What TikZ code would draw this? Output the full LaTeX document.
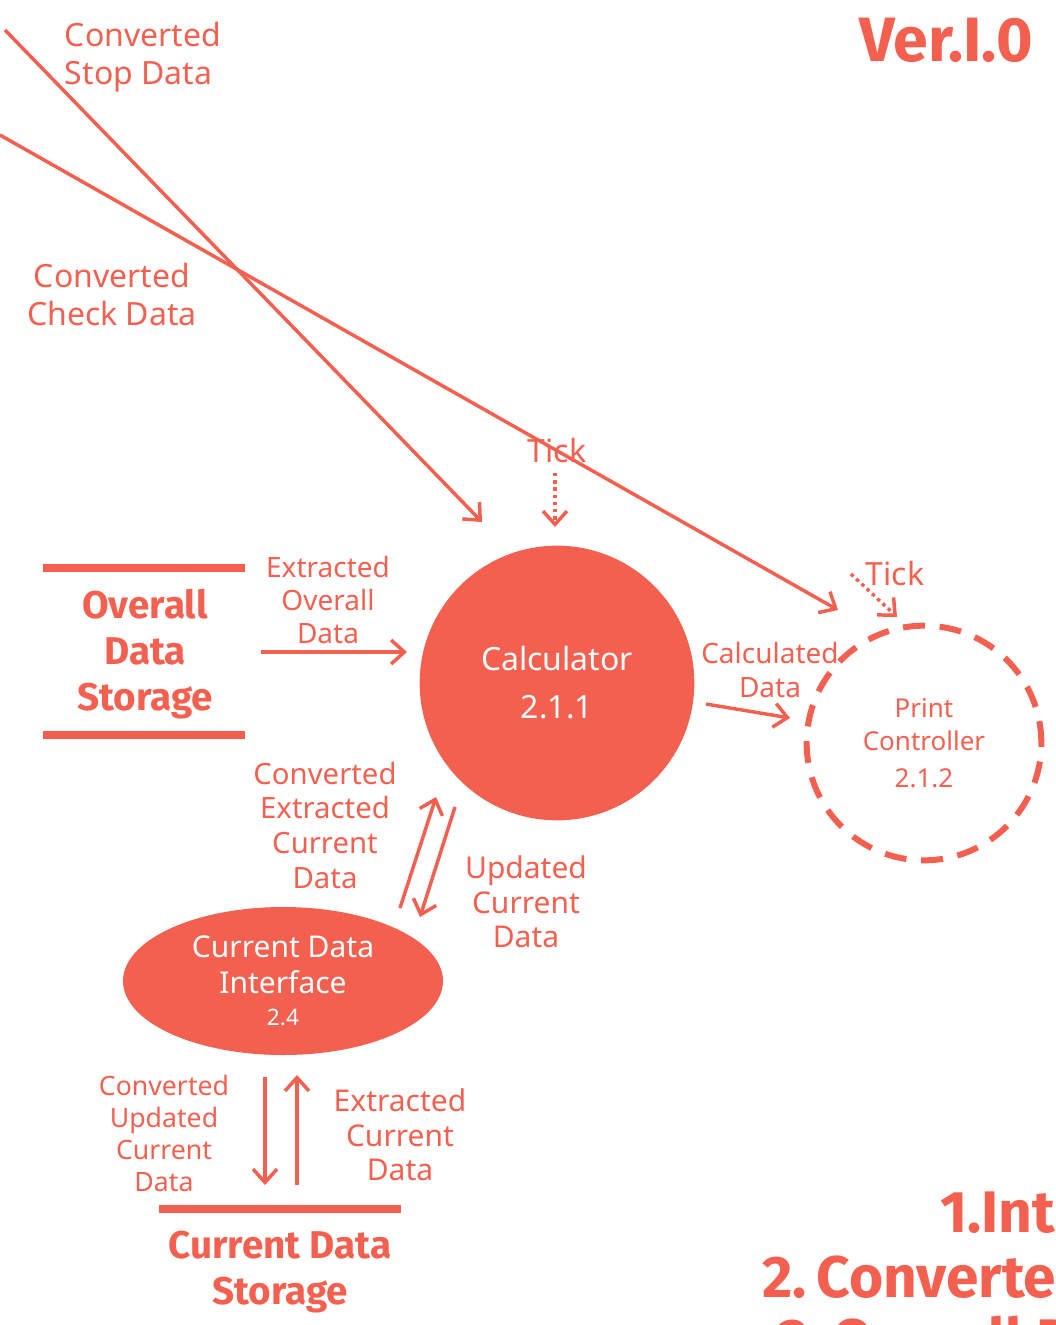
\documentclass[tikz,border=0pt]{standalone}
\usepackage{fontspec}
\setmainfont{Noto Sans}
\newfontfamily\heavyfont{Fira Sans}
\usetikzlibrary{arrows.meta,shapes.geometric}
\definecolor{dfdred}{RGB}{244,96,80}
\tikzset{
    flow/.style={draw=dfdred,line width=2.6pt,-{Straight Barb[length=10pt,width=18pt]}},
    tickflow/.style={flow,dash pattern=on 2.6pt off 2.8pt},
    lbl/.style={text=dfdred,align=center,inner sep=0pt,font=\fontsize{21}{25}\selectfont},
    storebar/.style={draw=dfdred,line width=5.4pt},
    storetxt/.style={text=dfdred,align=center,inner sep=0pt,font=\heavyfont\bfseries\fontsize{29}{34.5}\selectfont},
}
\begin{document}
\begin{tikzpicture}[x=0.75pt,y=-0.75pt]
        \useasboundingbox (0,0) rectangle (1056,1325);
        \clip (0,0) rectangle (1056,1325);

        %%%%%%%%% Processes %%%%%%%%%
        \node[circle,fill=dfdred,text=white,minimum size=206pt,align=center,
              font=\fontsize{24}{36}\selectfont] (Calc) at (557,683) {Calculator\\2.1.1};
        \node[circle,draw=dfdred,line width=4.5pt,dash pattern=on 16.5pt off 11pt,
              minimum size=176pt,text=dfdred,align=center,
              font=\fontsize{19.5}{25}\selectfont] (Print) at (924,743) {Print\\Controller\\[3pt]2.1.2};
        \node[ellipse,fill=dfdred,text=white,minimum width=240pt,minimum height=111pt,
              inner sep=0pt,align=center,font=\fontsize{22.5}{27}\selectfont]
              (CDI) at (283,981) {Current Data\\Interface\\[-3pt]{\fontsize{17}{20}\selectfont 2.4}};

        %%%%%%%%% Stores %%%%%%%%%%
        \draw[storebar] (43,568) -- (245,568);
        \draw[storebar] (43,735) -- (245,735);
        \node[storetxt] (ODS) at (145,654) {Overall\\Data\\Storage};
        \draw[storebar] (159,1209) -- (401,1209);
        \node[storetxt] (CDS) at (280,1272) {Current Data\\Storage};

        %%%%%%%%% Ends %%%%%%%%%%
        \coordinate (StopSrc) at (5,30);
        \coordinate (StopEnd) at (482,522);
        \coordinate (CheckSrc) at (0,135);
        \coordinate (CheckEnd) at (838,610);
        \coordinate (TickA) at (555,473);
        \coordinate (TickAEnd) at (555,527);
        \coordinate (TickB) at (851,574);
        \coordinate (TickBEnd) at (897,617);
        \coordinate (CalcOut) at (706,704);
        \coordinate (PrintIn) at (790,718);
        \coordinate (ODSOut) at (261,652);
        \coordinate (CalcIn) at (407,652);
        \coordinate (CDIUp) at (400,908);
        \coordinate (CalcUp) at (436,797);
        \coordinate (CalcDown) at (455,807);
        \coordinate (CDIDown) at (420,917);
        \coordinate (CDIOut) at (265,1077);
        \coordinate (CDSIn) at (265,1185);
        \coordinate (CDSOut) at (297,1185);
        \coordinate (CDIIn) at (297,1075);

        %%%%%%%%% Flows %%%%%%%%%%
        \draw[flow] (StopSrc) -- (StopEnd);
        \draw[flow] (CheckSrc) -- (CheckEnd);
        \draw[tickflow] (TickA) -- (TickAEnd);
        \draw[tickflow] (TickB) -- (TickBEnd);
        \draw[flow] (CalcOut) -- (PrintIn);
        \draw[flow] (ODSOut) -- (CalcIn);
        \draw[flow] (CDIUp) -- (CalcUp);
        \draw[flow] (CalcDown) -- (CDIDown);
        \draw[flow] (CDIOut) -- (CDSIn);
        \draw[flow] (CDSOut) -- (CDIIn);

        %%%%%%%%% Labels %%%%%%%%%
        \node[lbl,align=left,font=\fontsize{24}{28.5}\selectfont] (StopLbl) at (143,57) {Converted\\Stop Data};
        \node[lbl,font=\fontsize{24}{28.5}\selectfont] (CheckLbl) at (112,294) {Converted\\Check Data};
        \node[lbl,font=\fontsize{24}{28}\selectfont] (TickALbl) at (557,450) {Tick};
        \node[lbl,font=\fontsize{24}{28}\selectfont] (TickBLbl) at (895,573) {Tick};
        \node[lbl] (ExtOvLbl) at (328,600) {Extracted\\Overall\\Data};
        \node[lbl] (CalcLbl) at (770,670) {Calculated\\Data};
        \node[lbl,font=\fontsize{22}{26}\selectfont] (ConvExtLbl) at (325,825) {Converted\\Extracted\\Current\\Data};
        \node[lbl,font=\fontsize{22.5}{26}\selectfont] (UpdLbl) at (526,902) {Updated\\Current\\Data};
        \node[lbl,font=\fontsize{20}{24}\selectfont] (ConvUpdLbl) at (164,1133) {Converted\\Updated\\Current\\Data};
        \node[lbl,font=\fontsize{22.5}{26}\selectfont] (ExtCurLbl) at (400,1135) {Extracted\\Current\\Data};

        %%%%%%%%% Notes %%%%%%%%%%
        \node[lbl,anchor=east,font=\heavyfont\bfseries\fontsize{47}{50}\selectfont] (Ver) at (1033,40) {Ver.I.0};
        \node[lbl,anchor=base west,font=\heavyfont\bfseries\fontsize{44}{50}\selectfont] (NoteA) at (940,1232) {1.Inte};
        \node[lbl,anchor=base west,font=\heavyfont\bfseries\fontsize{44}{50}\selectfont] (NoteB) at (762,1297) {2.\,Converte};
        \node[lbl,anchor=base west,font=\heavyfont\bfseries\fontsize{44}{50}\selectfont] (NoteC) at (778,1360) {3.\,Overall D};
\end{tikzpicture}
\end{document}
